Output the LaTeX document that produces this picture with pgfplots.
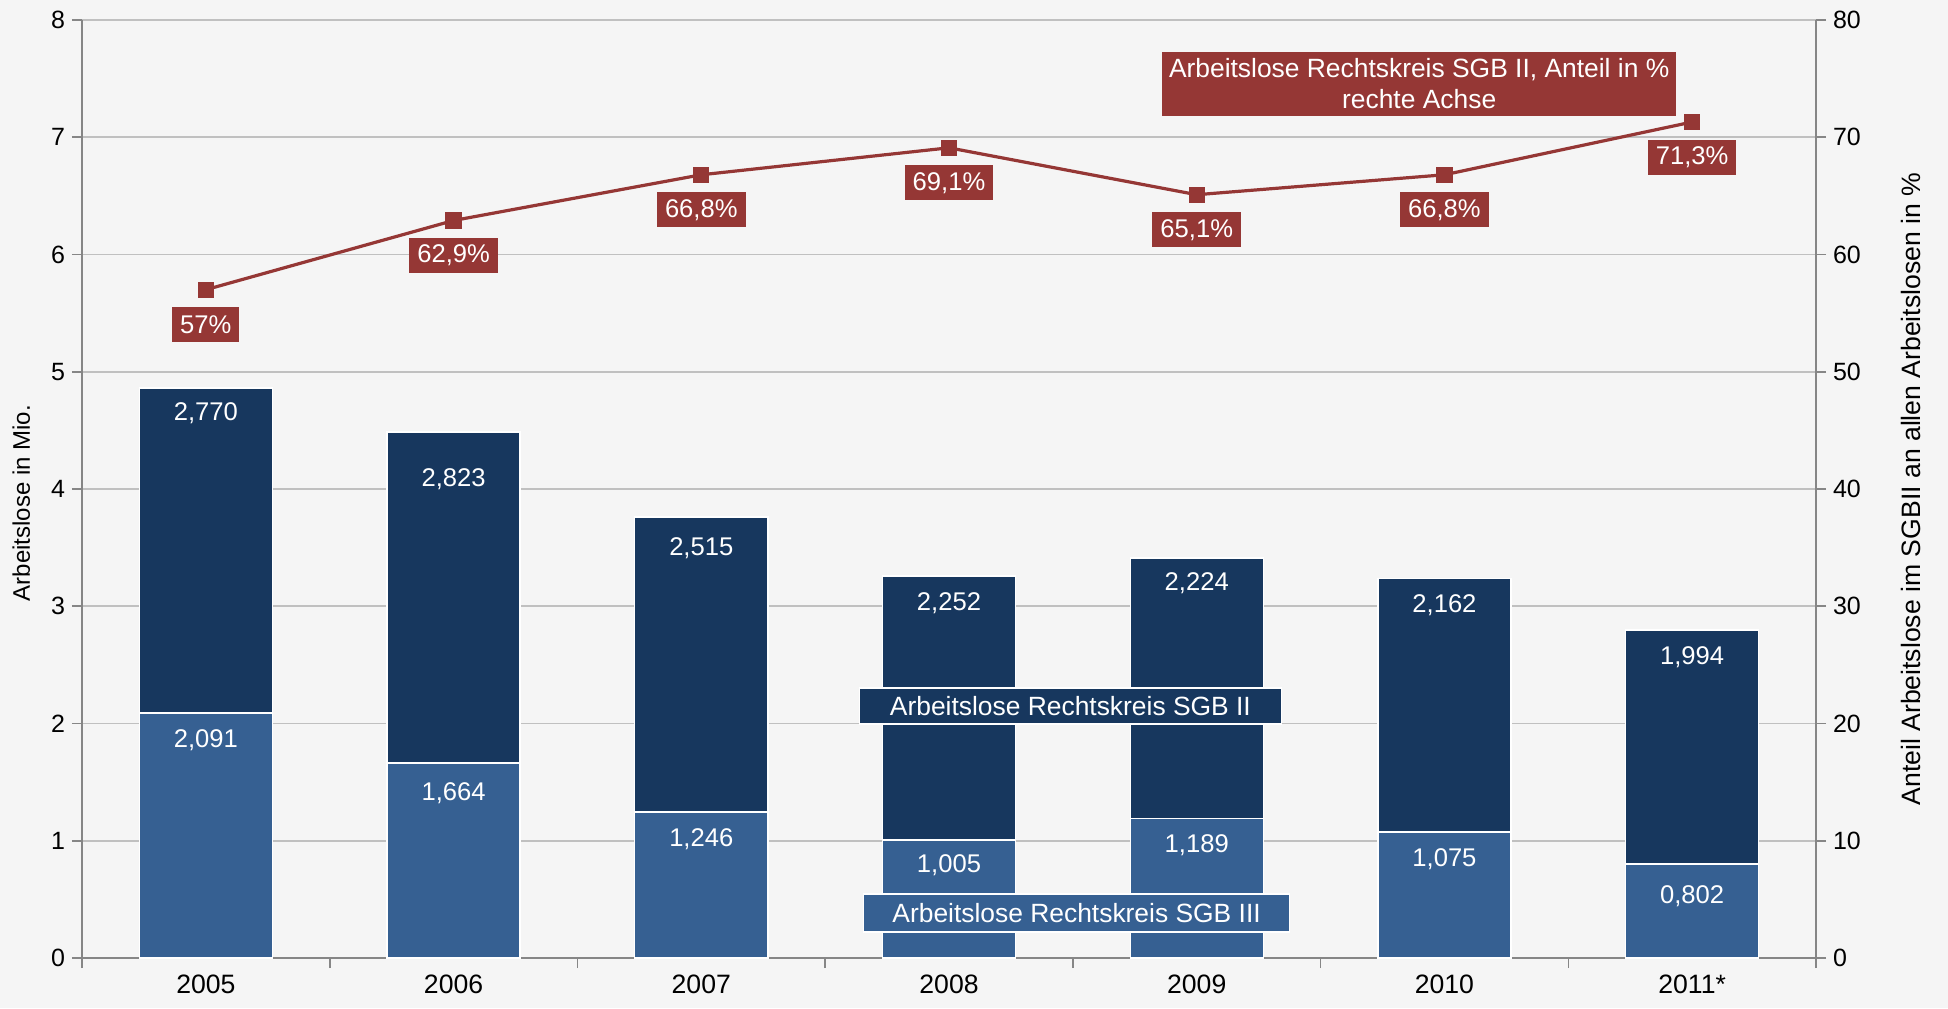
\documentclass[border=0pt]{standalone}
\usepackage{fontspec}
\setmainfont{Liberation Sans}
\usepackage{pgfplots}
\usepackage{pgfplotstable}
\pgfplotsset{compat=1.18}
\definecolor{navy}{HTML}{17375E}
\definecolor{steel}{HTML}{366092}
\definecolor{brick}{HTML}{953735}
\definecolor{bgc}{HTML}{F5F5F5}
\definecolor{gridc}{HTML}{C0C0C0}
\definecolor{axc}{HTML}{868686}

\pgfplotstableread{
x y l dy
0 2.091 2,091 -13.5
1 1.664 1,664 -15
2 1.246 1,246 -13.5
3 1.005 1,005 -12.5
4 1.189 1,189 -13.5
5 1.075 1,075 -13.5
6 0.802 0,802 -16
}\sgbiii
\pgfplotstableread{
x y l dy
0 2.770 2,770 -12.5
1 2.823 2,823 -23.5
2 2.515 2,515 -15.5
3 2.252 2,252 -13.5
4 2.224 2,224 -12.5
5 2.162 2,162 -13.5
6 1.994 1,994 -13.5
}\sgbii
\pgfplotstableread{
x y l
0 57.0 57\%
1 62.9 62,9\%
2 66.8 66,8\%
3 69.1 69,1\%
4 65.1 65,1\%
5 66.8 66,8\%
6 71.3 71,3\%
}\anteil

\begin{document}
\begin{tikzpicture}[font=\fontsize{11.5}{13}\selectfont]
\path[use as bounding box, fill=bgc] (0,0) rectangle (974pt,504pt);
\begin{axis}[
  at={(41pt,25pt)}, anchor=south west,
  width=867pt, height=469pt, scale only axis,
  xmin=-0.5, xmax=6.5, ymin=0, ymax=8,
  ybar stacked, bar width=0.537,
  axis x line*=bottom, axis y line*=left,
  axis line style={axc, line width=1pt, -},
  xtick={0,...,6},
  xticklabels={2005,2006,2007,2008,2009,2010,2011*},
  minor xtick={-0.5,0.5,...,6.5},
  major x tick style={draw=none},
  minor x tick style={axc, line width=0.8pt},
  ytick={0,...,8},
  major y tick style={axc, line width=0.8pt},
  tick align=outside,
  major tick length=5pt, minor tick length=5pt,
  ymajorgrids, major grid style={gridc, line width=0.9pt},
  /pgf/number format/assume math mode=true,
  xticklabel style={font=\fontsize{13.3}{15}\selectfont, text=black},
  yticklabel style={font=\fontsize{12.5}{14}\selectfont, text=black},
  every axis y label/.style={at={(axis description cs:-0.035,0.485)}, rotate=90, anchor=center},
  ylabel={\fontsize{12}{14}\selectfont Arbeitslose in Mio.},
  clip=false,
]
\addplot+[fill=steel, draw=white, line width=0.7pt,
  nodes near coords, point meta=explicit symbolic,
  visualization depends on={\thisrow{y}*29.3125+\thisrow{dy} \as \dy},
  every node near coord/.append style={anchor=center, yshift=\dy pt, text=white, font=\fontsize{12.8}{14}\selectfont}]
  table[x=x, y=y, meta=l] {\sgbiii};
\addplot+[fill=navy, draw=white, line width=0.7pt,
  nodes near coords, point meta=explicit symbolic,
  visualization depends on={\thisrow{y}*29.3125+\thisrow{dy} \as \dy},
  every node near coord/.append style={anchor=center, yshift=\dy pt, text=white, font=\fontsize{12.8}{14}\selectfont}]
  table[x=x, y=y, meta=l] {\sgbii};
\end{axis}
\begin{axis}[
  at={(41pt,25pt)}, anchor=south west,
  width=867pt, height=469pt, scale only axis,
  xmin=-0.5, xmax=6.5, ymin=0, ymax=80,
  axis x line=none, axis y line*=right,
  axis line style={axc, line width=1pt, -},
  ytick={0,10,...,80},
  major y tick style={axc, line width=0.8pt},
  tick align=outside, major tick length=5pt,
  /pgf/number format/assume math mode=true,
  yticklabel style={font=\fontsize{12.5}{14}\selectfont, text=black},
  every axis y label/.style={at={(axis description cs:1.055,0.5)}, rotate=90, anchor=center},
  ylabel={\fontsize{13.3}{15}\selectfont Anteil Arbeitslose im SGBII an allen Arbeitslosen in \%},
  clip=false,
]
\addplot[brick, line width=1.6pt, mark=square*, mark size=3.8pt,
  mark options={fill=brick, draw=brick, line width=0pt},
  nodes near coords, point meta=explicit symbolic,
  every node near coord/.append style={anchor=center, yshift=-17.5pt, fill=brick, text=white, inner xsep=4pt, minimum height=17.5pt, font=\fontsize{12.8}{14}\selectfont}]
  table[x=x, y=y, meta=l] {\anteil};
\node[fill=navy, draw=white, line width=0.7pt, text=white, minimum width=211pt, minimum height=18pt, inner sep=1pt, font=\fontsize{13.2}{14}\selectfont] at (axis cs:3.49,21.49) {Arbeitslose Rechtskreis SGB II};
\node[fill=steel, draw=white, line width=0.7pt, text=white, minimum width=213pt, minimum height=19pt, inner sep=1pt, font=\fontsize{13.2}{14}\selectfont] at (axis cs:3.515,3.84) {Arbeitslose Rechtskreis SGB III};
\node[fill=brick, text=white, align=center, minimum width=257pt, minimum height=32pt, inner sep=1pt, font=\fontsize{13.2}{15.5}\selectfont] at (axis cs:4.898,74.54) {Arbeitslose Rechtskreis SGB II, Anteil in \%\\rechte Achse};
\end{axis}
\end{tikzpicture}
\end{document}
